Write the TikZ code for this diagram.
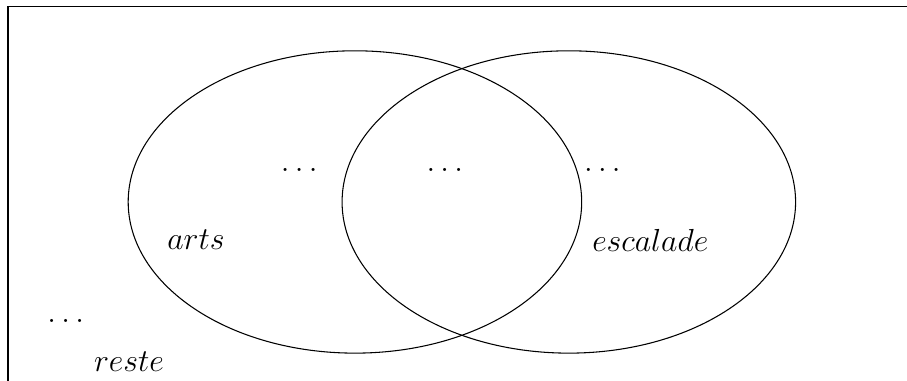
\documentclass[tikz,border=0pt]{standalone}
\tikzset{lbl/.style={font=\large}}
\begin{document}
\begin{tikzpicture}
  \useasboundingbox (0,0) rectangle (12,5.04);
  \draw (0.106,-1) rectangle (13,4.954);
  \draw (4.696,2.368) ellipse (3 and 2);
  \draw (7.526,2.368) ellipse (3 and 2);
  \node[lbl] (arts) at (2.593,1.865) {\(arts\)};
  \node[lbl] (escalade) at (8.604,1.865) {\(escalade\)};
  \node[lbl] (dotsa) at (3.96,2.79) {\(\dots\)};
  \node[lbl] (dotsab) at (5.886,2.79) {\(\dots\)};
  \node[lbl] (dotsb) at (7.97,2.79) {\(\dots\)};
  \node[lbl] (dotsr) at (0.870,0.80) {\(\dots\)};
  \node[lbl] (reste) at (1.706,0.251) {\(reste\)};
\end{tikzpicture}
\end{document}
